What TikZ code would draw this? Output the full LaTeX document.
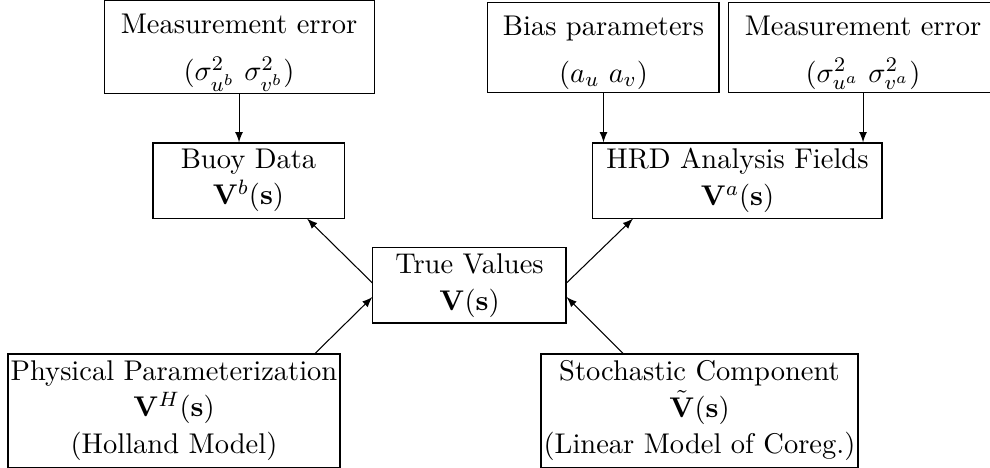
\documentclass[tikz,border=0pt]{standalone}
\usepackage{amsmath}
\usepackage{tikz}
\usetikzlibrary{calc}
\newcommand{\boxfont}{\fontsize{10.95pt}{14pt}\selectfont}
\newcommand{\topstrut}{\rule{0pt}{11.5pt}}

\begin{document}
\begin{tikzpicture}[
    box/.style={draw, align=center, inner sep=1pt, font=\boxfont},
    arr/.style={-latex}
  ]
  \useasboundingbox (0,0) rectangle (13.365,-6.318);

  % Top row
  \node[box, minimum width=3.645cm, minimum height=1.202cm] (meb) at (3.227,-0.641)
    {\topstrut Measurement error\\[4pt] $(\sigma^2_{u^b}\ \sigma^2_{v^b})$};
  \node[box, minimum width=3.119cm, minimum height=1.202cm] (bias) at (8.147,-0.641)
    {\topstrut Bias parameters\\[4pt] $(a_u\ a_v)$};
  \node[box, minimum width=3.645cm, minimum height=1.202cm] (mea) at (11.651,-0.641)
    {\topstrut Measurement error\\[4pt] $(\sigma^2_{u^a}\ \sigma^2_{v^a})$};

  % Data
  \node[box, minimum width=2.579cm, minimum height=1.013cm] (buoy) at (3.355,-2.437)
    {Buoy Data\\ $\mathbf{V}^b(\mathbf{s})$};
  \node[box, minimum width=3.902cm, minimum height=1.013cm] (hrd) at (9.956,-2.437)
    {HRD Analysis Fields\\ $\mathbf{V}^a(\mathbf{s})$};

  % Truth
  \node[box, minimum width=2.606cm, minimum height=1.013cm] (true) at (6.338,-3.854)
    {True Values\\ $\mathbf{V}(\mathbf{s})$};

  % Components
  \node[box, minimum width=4.482cm, minimum height=1.526cm] (phys) at (2.349,-5.542)
    {Physical Parameterization\\ $\mathbf{V}^H(\mathbf{s})$\\ (Holland Model)};
  \node[box, minimum width=4.145cm, minimum height=1.526cm] (stoch) at (9.443,-5.542)
    {Stochastic Component\\ $\tilde{\mathbf{V}}(\mathbf{s})$\\ (Linear Model of Coreg.)};

  % Arrows
  \draw[arr] (meb.south) -- (buoy.north -| meb.south);
  \draw[arr] (bias.south) -- (hrd.north -| bias.south);
  \draw[arr] (mea.south) -- (hrd.north -| mea.south);
  \draw[arr] ([yshift=0.034cm]true.west) -- ([xshift=0.79cm]buoy.south);
  \draw[arr] ([yshift=0.034cm]true.east) -- ([xshift=-1.41cm]hrd.south);
  \draw[arr] ([xshift=1.904cm]phys.north) -- ([yshift=-0.155cm]true.west);
  \draw[arr] ([xshift=-1.032cm]stoch.north) -- ([yshift=-0.155cm]true.east);
\end{tikzpicture}
\end{document}
